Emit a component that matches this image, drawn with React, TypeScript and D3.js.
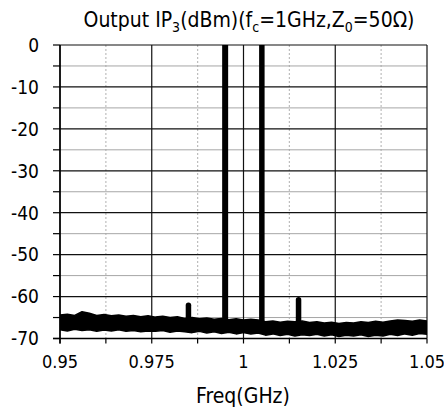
import React from 'react';
import * as d3 from 'd3';

const freqs = [
  0.950, 0.952, 0.954, 0.956, 0.958, 0.960, 0.962, 0.964, 0.966, 0.968,
  0.970, 0.972, 0.974, 0.976, 0.978, 0.980, 0.982, 0.984, 0.986, 0.988,
  0.990, 0.992, 0.994, 0.996, 0.998, 1.000, 1.002, 1.004, 1.006, 1.008,
  1.010, 1.012, 1.014, 1.016, 1.018, 1.020, 1.022, 1.024, 1.026, 1.028,
  1.030, 1.032, 1.034, 1.036, 1.038, 1.040, 1.042, 1.044, 1.046, 1.048, 1.050,
];
const noiseUpper = [
  -64.4, -64.2, -64.5, -63.6, -64.0, -64.5, -64.3, -64.6, -64.4, -64.7,
  -64.5, -64.8, -64.6, -64.9, -64.7, -65.0, -64.8, -65.2, -65.0, -65.3,
  -65.1, -65.4, -65.2, -65.5, -65.3, -65.6, -65.4, -65.6, -66.0, -65.8,
  -66.1, -65.9, -66.0, -65.8, -66.2, -66.0, -66.3, -66.1, -66.4, -66.2,
  -66.3, -66.0, -66.2, -65.9, -66.1, -65.8, -65.6, -65.7, -65.9, -65.6, -65.8,
];
const noiseLower = [
  -67.9, -68.2, -67.8, -68.1, -67.9, -68.3, -68.0, -68.2, -67.9, -68.3,
  -68.1, -68.4, -68.2, -68.3, -68.1, -68.5, -68.2, -68.4, -68.6, -68.3,
  -68.7, -68.4, -68.8, -68.5, -68.9, -68.6, -68.9, -68.7, -69.2, -68.9,
  -69.3, -69.0, -69.4, -69.1, -69.3, -69.0, -69.4, -69.1, -69.5, -69.2,
  -69.4, -69.1, -69.5, -69.2, -69.4, -69.0, -69.3, -68.9, -69.2, -68.8, -69.0,
];

const spikeFreqs = [0.985, 0.995, 1.005, 1.015];
const spikePeaks = [-61.4, 5, 5, -60.1];
const spikeBases = [-66, -66, -66.5, -67];

const xMajorTicks = [0.95, 0.975, 1.0, 1.025, 1.05];
const xTickLabels = ['0.95', '0.975', '1', '1.025', '1.05'];
const xMinorTicks = [0.9625, 0.9875, 1.0125, 1.0375];
const yMajorTicks = [0, -10, -20, -30, -40, -50, -60, -70];
const yMinorTicks = [-5, -15, -25, -35, -45, -55, -65];

const W = 444;
const H = 410;
const L = 60;
const R = 427;
const T = 45;
const B = 338.5;
const FONT = '"DejaVu Sans Condensed", "Liberation Sans", sans-serif';

export default function App() {
  const x = d3.scaleLinear().domain([0.95, 1.05]).range([L, R]);
  const y = d3.scaleLinear().domain([-70, 0]).range([B, T]);

  const band = d3
    .area<number>()
    .x((_, i) => x(freqs[i]))
    .y0((_, i) => y(noiseLower[i]))
    .y1((_, i) => y(noiseUpper[i]))
    .curve(d3.curveLinear);
  const bandPath = band(freqs) || '';

  const spikeWidths = [5.5, 6, 5.5, 5.5];

  return (
    <svg
      width={W}
      height={H}
      style={{ position: 'absolute', left: 0, top: 0, background: '#fff' }}
      fontFamily={FONT}
      fontStretch="condensed"
    >
      <defs>
        <clipPath id="plotClip">
          <rect x={L} y={T} width={R - L} height={B - T} />
        </clipPath>
      </defs>

      {xMinorTicks.map((t) => (
        <line
          key={'xm' + t}
          x1={x(t)}
          x2={x(t)}
          y1={T}
          y2={B}
          stroke="#bdbdbd"
          strokeWidth={1.2}
          strokeDasharray="2,2"
        />
      ))}
      {yMinorTicks.map((t) => (
        <line
          key={'ym' + t}
          x1={L}
          x2={R}
          y1={y(t)}
          y2={y(t)}
          stroke="#a6a6a6"
          strokeWidth={1}
        />
      ))}
      {yMajorTicks.map((t) => (
        <line
          key={'yM' + t}
          x1={L}
          x2={R}
          y1={y(t)}
          y2={y(t)}
          stroke="#111"
          strokeWidth={1.2}
        />
      ))}
      {xMajorTicks.map((t) => (
        <line
          key={'xM' + t}
          x1={x(t)}
          x2={x(t)}
          y1={T}
          y2={B}
          stroke="#111"
          strokeWidth={1.2}
        />
      ))}

      <g clipPath="url(#plotClip)">
        <path d={bandPath} fill="#000" stroke="#000" strokeWidth={1.5} strokeLinejoin="round" />
        {spikeFreqs.map((f, i) => (
          <line
            key={'sp' + f}
            x1={x(f)}
            x2={x(f)}
            y1={y(spikeBases[i])}
            y2={y(spikePeaks[i]) + spikeWidths[i] / 2}
            stroke="#000"
            strokeWidth={spikeWidths[i]}
            strokeLinecap="round"
          />
        ))}
      </g>

      <line x1={L} x2={L} y1={T} y2={B + 5} stroke="#000" strokeWidth={1.5} />
      <line x1={L - 7} x2={R} y1={B} y2={B} stroke="#000" strokeWidth={1.5} />
      {[...yMajorTicks, ...yMinorTicks].map((t) => (
        <line key={'yt' + t} x1={L - 7} x2={L} y1={y(t)} y2={y(t)} stroke="#000" strokeWidth={1.2} />
      ))}
      {[...xMajorTicks, ...xMinorTicks].map((t) => (
        <line key={'xt' + t} x1={x(t)} x2={x(t)} y1={B} y2={B + 5} stroke="#000" strokeWidth={1.2} />
      ))}

      {yMajorTicks.map((t) => (
        <text
          key={'yl' + t}
          x={39}
          y={y(t)}
          dy="0.36em"
          textAnchor="end"
          fontSize={19}
          fill="#000"
        >
          {String(t)}
        </text>
      ))}
      {xMajorTicks.map((t, i) => (
        <text key={'xl' + t} x={x(t)} y={368} textAnchor="middle" fontSize={18} fill="#000">
          {xTickLabels[i]}
        </text>
      ))}

      <text x={243} y={403} textAnchor="middle" fontSize={21} fill="#000">
        Freq(GHz)
      </text>

      <text x={249} y={27} textAnchor="middle" fontSize={21} fill="#000">
        Output IP
        <tspan dy={5} fontSize={14}>3</tspan>
        <tspan dy={-5}>(dBm)(f</tspan>
        <tspan dy={5} fontSize={14}>c</tspan>
        <tspan dy={-5}>=1GHz,Z</tspan>
        <tspan dy={5} fontSize={14}>0</tspan>
        <tspan dy={-5}>=50Ω)</tspan>
      </text>
    </svg>
  );
}
